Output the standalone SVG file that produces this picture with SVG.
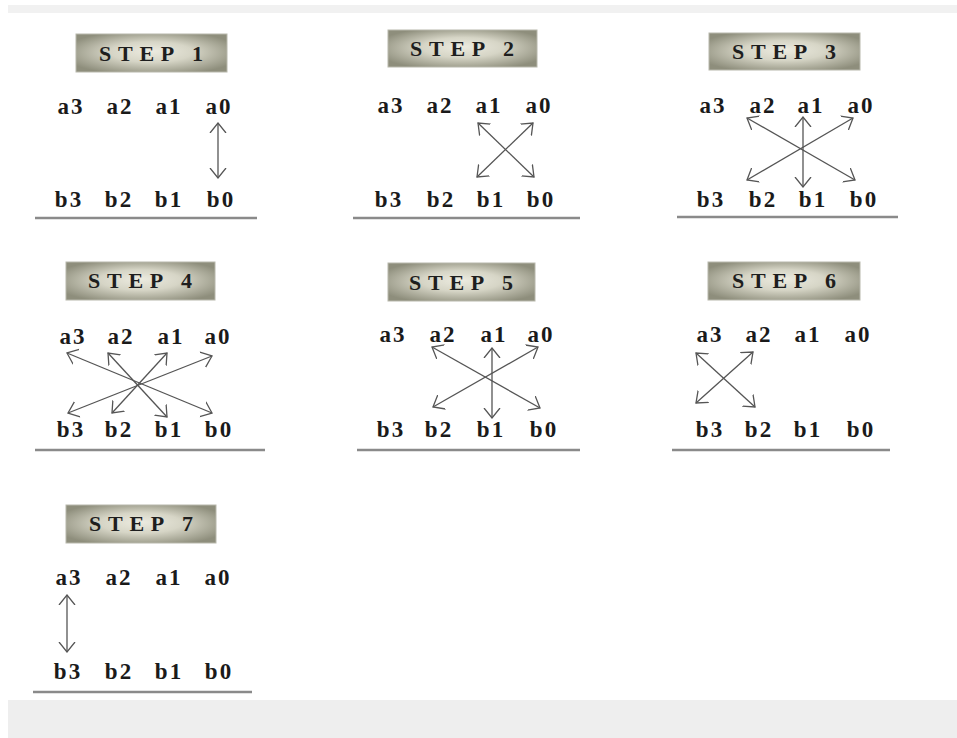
<svg xmlns="http://www.w3.org/2000/svg" width="957" height="738" viewBox="0 0 957 738">
<defs>
<radialGradient id="hg" cx="0.5" cy="0.5" r="0.6" fx="0.5" fy="0.45">
<stop offset="0" stop-color="#ecebe0"/>
<stop offset="0.45" stop-color="#d6d5c6"/>
<stop offset="1" stop-color="#8e8e7c"/>
</radialGradient>
<marker id="ah" viewBox="0 -9 11 18" markerWidth="11" markerHeight="18" refX="10" refY="0" orient="auto-start-reverse" markerUnits="userSpaceOnUse">
<path d="M0,-8 L10,0 L0,8" fill="none" stroke="#555" stroke-width="1.3"/>
</marker>
</defs>
<style>
.hdr{fill:url(#hg);stroke:#b8b8ac;stroke-width:1}
.ht{font-family:"Liberation Serif",serif;font-weight:bold;font-size:22px;fill:#1e1e1e;text-anchor:middle}
.t{font-family:"Liberation Serif",serif;font-weight:bold;font-size:23px;fill:#1a1a1a;text-anchor:middle;letter-spacing:2px}
.ul{stroke:#8a8a8a;stroke-width:2.5}
.c line{stroke:#555;stroke-width:1.3;fill:none;marker-start:url(#ah);marker-end:url(#ah)}
</style>
<rect x="0" y="0" width="957" height="738" fill="#ffffff"/>
<rect x="8" y="5" width="949" height="8" fill="#f1f1f1"/>
<rect x="8" y="700" width="949" height="38" fill="#eeeeee"/>

<g id="step1">
<rect class="hdr" x="76" y="34" width="151" height="38"/>
<text class="ht" x="151" y="61" textLength="104" lengthAdjust="spacing">STEP 1</text>
<text class="t" x="71" y="114">a3</text><text class="t" x="120" y="114">a2</text><text class="t" x="169" y="114">a1</text><text class="t" x="219" y="114">a0</text>
<text class="t" x="69" y="207">b3</text><text class="t" x="119" y="207">b2</text><text class="t" x="169" y="207">b1</text><text class="t" x="221" y="207">b0</text>
<line class="ul" x1="35" y1="218" x2="257" y2="218"/>
</g>

<g id="step2">
<rect class="hdr" x="388" y="30" width="149" height="37"/>
<text class="ht" x="462" y="56" textLength="104" lengthAdjust="spacing">STEP 2</text>
<text class="t" x="391" y="113">a3</text><text class="t" x="440" y="113">a2</text><text class="t" x="489" y="113">a1</text><text class="t" x="539" y="113">a0</text>
<text class="t" x="389" y="207">b3</text><text class="t" x="441" y="207">b2</text><text class="t" x="491" y="207">b1</text><text class="t" x="541" y="207">b0</text>
<line class="ul" x1="353" y1="218" x2="580" y2="218"/>
</g>

<g id="step3">
<rect class="hdr" x="709" y="33" width="151" height="37"/>
<text class="ht" x="784" y="59" textLength="104" lengthAdjust="spacing">STEP 3</text>
<text class="t" x="713" y="113">a3</text><text class="t" x="763" y="113">a2</text><text class="t" x="811" y="113">a1</text><text class="t" x="861" y="113">a0</text>
<text class="t" x="711" y="207">b3</text><text class="t" x="763" y="207">b2</text><text class="t" x="813" y="207">b1</text><text class="t" x="864" y="207">b0</text>
<line class="ul" x1="677" y1="217" x2="898" y2="217"/>
</g>

<g id="step4">
<rect class="hdr" x="66" y="262" width="149" height="38"/>
<text class="ht" x="140" y="288" textLength="104" lengthAdjust="spacing">STEP 4</text>
<text class="t" x="73" y="344">a3</text><text class="t" x="121" y="344">a2</text><text class="t" x="171" y="344">a1</text><text class="t" x="218" y="344">a0</text>
<text class="t" x="71" y="437">b3</text><text class="t" x="119" y="437">b2</text><text class="t" x="169" y="437">b1</text><text class="t" x="219" y="437">b0</text>
<line class="ul" x1="35" y1="450" x2="265" y2="450"/>
</g>

<g id="step5">
<rect class="hdr" x="388" y="263" width="147" height="38"/>
<text class="ht" x="461" y="290" textLength="104" lengthAdjust="spacing">STEP 5</text>
<text class="t" x="393" y="342">a3</text><text class="t" x="443" y="342">a2</text><text class="t" x="494" y="342">a1</text><text class="t" x="541" y="342">a0</text>
<text class="t" x="391" y="437">b3</text><text class="t" x="439" y="437">b2</text><text class="t" x="491" y="437">b1</text><text class="t" x="544" y="437">b0</text>
<line class="ul" x1="357" y1="450" x2="580" y2="450"/>
</g>

<g id="step6">
<rect class="hdr" x="708" y="262" width="152" height="38"/>
<text class="ht" x="784" y="288" textLength="104" lengthAdjust="spacing">STEP 6</text>
<text class="t" x="710" y="342">a3</text><text class="t" x="759" y="342">a2</text><text class="t" x="808" y="342">a1</text><text class="t" x="858" y="342">a0</text>
<text class="t" x="710" y="437">b3</text><text class="t" x="759" y="437">b2</text><text class="t" x="808" y="437">b1</text><text class="t" x="861" y="437">b0</text>
<line class="ul" x1="672" y1="450" x2="890" y2="450"/>
</g>

<g id="step7">
<rect class="hdr" x="66" y="505" width="150" height="38"/>
<text class="ht" x="141" y="531" textLength="104" lengthAdjust="spacing">STEP 7</text>
<text class="t" x="69" y="585">a3</text><text class="t" x="119" y="585">a2</text><text class="t" x="169" y="585">a1</text><text class="t" x="218" y="585">a0</text>
<text class="t" x="68" y="679">b3</text><text class="t" x="119" y="679">b2</text><text class="t" x="169" y="679">b1</text><text class="t" x="219" y="679">b0</text>
<line class="ul" x1="33" y1="692" x2="252" y2="692"/>
</g>

<g id="connectors" class="c">
<line x1="218" y1="123" x2="218" y2="178"/>
<line x1="478" y1="123" x2="534" y2="177"/>
<line x1="533" y1="123" x2="477" y2="177"/>
<line x1="747" y1="118" x2="855" y2="180"/>
<line x1="853" y1="118" x2="747" y2="180"/>
<line x1="803" y1="117" x2="803" y2="187"/>
<line x1="67" y1="353" x2="212" y2="413"/>
<line x1="108" y1="353" x2="167" y2="417"/>
<line x1="167" y1="353" x2="112" y2="413"/>
<line x1="212" y1="356" x2="68" y2="413"/>
<line x1="432" y1="347" x2="540" y2="408"/>
<line x1="538" y1="347" x2="433" y2="407"/>
<line x1="492" y1="348" x2="492" y2="418"/>
<line x1="696" y1="353" x2="755" y2="407"/>
<line x1="753" y1="352" x2="696" y2="403"/>
<line x1="67" y1="595" x2="67" y2="652"/>
</g>
</svg>
